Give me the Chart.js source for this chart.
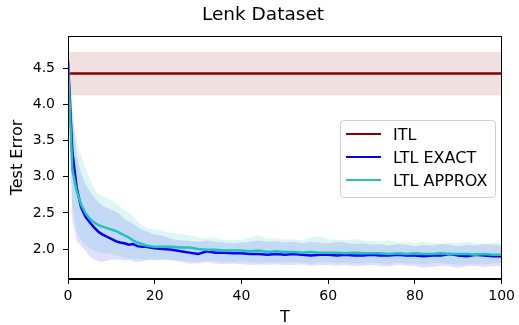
<!DOCTYPE html>
<html>
<head>
<meta charset="utf-8">
<script src="https://cdn.jsdelivr.net/npm/chart.js@4"></script>
<style>
  html, body { margin: 0; padding: 0; background: #fff; }
  #wrap { position: relative; width: 519px; height: 325px; }
  #legend { position: absolute; left: 340px; top: 120px; width: 154px; height: 76px;
    border: 1px solid #d0d0d0; border-radius: 4px; background: rgba(255,255,255,0.85);
    font-family: "DejaVu Sans", sans-serif; font-size: 16px; color: #000; }
  .row { position: absolute; left: 0; height: 24px; display: flex; align-items: center; white-space: nowrap; }
  .swatch { width: 35px; height: 2px; margin-left: 5px; margin-right: 12px; }
</style>
</head>
<body>
<div id="wrap">
  <canvas id="chart" width="519" height="325"></canvas>
  <div id="legend"></div>
</div>
<script>
// x positions (tasks T)
const T = [0,1,2,3,4,5,6,7,8,9,10,11,12,13,14,15,16,17,18,19,20,
  22,24,26,28,30,32,34,36,38,40,42,44,46,48,50,52,54,56,58,60,
  62,64,66,68,70,72,74,76,78,80,82,84,86,88,90,92,94,96,98,100];

const exactMean = [4.60,3.35,2.85,2.58,2.45,2.37,2.30,2.24,2.20,2.17,2.14,2.11,2.09,2.08,2.06,2.07,2.04,2.03,2.03,2.02,2.01,
  2.00,1.99,1.97,1.95,1.93,1.97,1.95,1.95,1.94,1.94,1.93,1.93,1.92,1.93,1.92,1.93,1.92,1.91,1.92,1.92,
  1.91,1.92,1.91,1.91,1.92,1.91,1.91,1.92,1.91,1.91,1.90,1.91,1.91,1.93,1.91,1.90,1.92,1.91,1.90,1.90];
const exactHigh = [4.78,3.95,3.30,3.05,2.90,2.80,2.72,2.65,2.60,2.57,2.54,2.52,2.48,2.42,2.38,2.35,2.30,2.27,2.25,2.22,2.20,
  2.18,2.14,2.12,2.11,2.10,2.12,2.10,2.09,2.08,2.09,2.10,2.12,2.10,2.11,2.09,2.10,2.08,2.10,2.09,2.08,
  2.10,2.09,2.07,2.08,2.06,2.07,2.05,2.07,2.06,2.04,2.06,2.05,2.07,2.06,2.04,2.06,2.05,2.07,2.06,2.05];
const exactLow = [4.40,2.40,2.12,2.04,1.98,1.90,1.86,1.83,1.82,1.84,1.85,1.86,1.85,1.84,1.85,1.83,1.82,1.83,1.84,1.85,1.84,
  1.85,1.84,1.82,1.80,1.80,1.82,1.80,1.79,1.80,1.79,1.78,1.79,1.78,1.79,1.78,1.78,1.79,1.77,1.78,1.78,
  1.77,1.78,1.76,1.77,1.78,1.77,1.76,1.78,1.77,1.76,1.74,1.75,1.77,1.76,1.74,1.76,1.77,1.75,1.76,1.77];

const approxMean = [4.55,3.10,2.80,2.62,2.50,2.42,2.37,2.33,2.31,2.29,2.27,2.25,2.22,2.19,2.16,2.12,2.09,2.07,2.05,2.04,2.03,
  2.03,2.03,2.02,2.02,2.00,1.99,1.99,1.98,1.98,1.98,1.97,1.98,1.96,1.97,1.96,1.96,1.95,1.96,1.95,1.95,
  1.95,1.94,1.95,1.94,1.94,1.94,1.93,1.94,1.93,1.94,1.93,1.93,1.94,1.93,1.93,1.93,1.92,1.93,1.92,1.92];
const approxHigh = [4.70,3.75,3.50,3.30,3.12,2.98,2.85,2.76,2.73,2.71,2.68,2.64,2.59,2.54,2.50,2.45,2.38,2.33,2.30,2.28,2.27,
  2.25,2.22,2.21,2.19,2.16,2.15,2.16,2.13,2.12,2.13,2.16,2.19,2.14,2.15,2.13,2.14,2.12,2.16,2.18,2.14,
  2.13,2.12,2.14,2.12,2.11,2.10,2.12,2.09,2.10,2.08,2.10,2.09,2.07,2.09,2.08,2.10,2.08,2.07,2.09,2.08];
const approxLow = [4.35,2.60,2.25,2.12,2.05,2.02,1.98,1.96,1.94,1.94,1.93,1.92,1.90,1.88,1.87,1.86,1.87,1.85,1.86,1.86,1.85,
  1.86,1.85,1.84,1.83,1.82,1.84,1.83,1.82,1.82,1.83,1.82,1.81,1.82,1.82,1.81,1.82,1.81,1.80,1.81,1.82,
  1.80,1.81,1.80,1.80,1.81,1.80,1.79,1.81,1.80,1.80,1.79,1.80,1.81,1.79,1.78,1.79,1.80,1.79,1.80,1.81];

const itlT = [0, 100];
const itlMean = [4.43, 4.43];
const itlHigh = [4.73, 4.73];
const itlLow = [4.13, 4.13];

const xTicks = [0, 20, 40, 60, 80, 100];
const yTicks = [2.0, 2.5, 3.0, 3.5, 4.0, 4.5];

const legendNames = ["ITL", "LTL EXACT", "LTL APPROX"];
const colors = { itl: "#8b0000", exact: "#0000ff", approx: "#20c4bc" };

function pts(xs, ys) { return xs.map((x, i) => ({ x: x, y: ys[i] })); }

function line(label, xs, ys, color, order) {
  return { label: label, data: pts(xs, ys), borderColor: color, borderWidth: 2.5,
    pointRadius: 0, fill: false, order: order };
}
function band(xs, ys, fill, bg, order) {
  return { label: "", data: pts(xs, ys), borderWidth: 0, borderColor: "rgba(0,0,0,0)",
    backgroundColor: bg, pointRadius: 0, fill: fill, order: order };
}

// axes box on all four sides + title centred like the original figure
const frame = {
  id: "frame",
  afterDatasetsDraw(chart) {
    const a = chart.chartArea, ctx = chart.ctx;
    ctx.save(); ctx.strokeStyle = "#000"; ctx.lineWidth = 1;
    ctx.strokeRect(Math.round(a.left) + 0.5, Math.round(a.top) + 0.5, Math.round(a.width) - 1, Math.round(a.height) - 1);
    ctx.restore();
  },
  afterDraw(chart) {
    const ctx = chart.ctx;
    ctx.save();
    ctx.fillStyle = "#000"; ctx.font = "18.5px 'DejaVu Sans'";
    ctx.textAlign = "center"; ctx.textBaseline = "middle";
    ctx.fillText("Lenk Dataset", 263, 15);
    ctx.restore();
  }
};

const font = { family: "DejaVu Sans", size: 14 };

new Chart(document.getElementById("chart"), {
  type: "line",
  data: {
    datasets: [
      line(legendNames[2], T, approxMean, colors.approx, 0),
      line(legendNames[1], T, exactMean, colors.exact, 1),
      line(legendNames[0], itlT, itlMean, colors.itl, 2),
      band(T, approxHigh, "+1", "rgba(35,195,182,0.15)", 3),
      band(T, approxLow, false, "rgba(0,0,0,0)", 4),
      band(T, exactHigh, "+1", "rgba(20,0,255,0.13)", 5),
      band(T, exactLow, false, "rgba(0,0,0,0)", 6),
      band(itlT, itlHigh, "+1", "rgba(139,0,0,0.12)", 7),
      band(itlT, itlLow, false, "rgba(0,0,0,0)", 8)
    ]
  },
  options: {
    responsive: false,
    animation: false,
    devicePixelRatio: 1,
    layout: { padding: { left: 0, right: 17, top: 36, bottom: 0 } },
    plugins: {
      legend: { display: false },
      tooltip: { enabled: false },
      title: { display: false },
      filler: { drawTime: "beforeDatasetsDraw" }
    },
    scales: {
      x: {
        type: "linear", min: 0, max: 100,
        afterBuildTicks: s => { s.ticks = xTicks.map(v => ({ value: v })); },
        afterFit: s => { s.height = 46; },
        ticks: { color: "#000", font: font, padding: 4, maxRotation: 0 },
        grid: { drawOnChartArea: false, drawTicks: true, tickLength: 5, color: "#000" },
        border: { display: true, color: "#000" },
        title: { display: true, text: "T", color: "#000", font: { family: "DejaVu Sans", size: 16 }, padding: { top: 0, bottom: -2.5 } }
      },
      y: {
        type: "linear", min: 1.585, max: 4.95,
        afterBuildTicks: s => { s.ticks = yTicks.map(v => ({ value: v })); },
        afterFit: s => { s.width = 68; },
        ticks: { color: "#000", font: font, padding: 8, callback: v => Number(v).toFixed(1) },
        grid: { drawOnChartArea: false, drawTicks: true, tickLength: 5, color: "#000" },
        border: { display: true, color: "#000" },
        title: { display: true, text: "Test Error", color: "#000", font: { family: "DejaVu Sans", size: 16 }, padding: { top: 8, bottom: 0 } }
      }
    }
  },
  plugins: [frame]
});

// legend box inside the plot, like matplotlib's
const legendColors = [colors.itl, colors.exact, colors.approx];
const legendEl = document.getElementById("legend");
legendNames.forEach((name, i) => {
  const row = document.createElement("div");
  row.className = "row";
  row.style.top = (i * 23 + 1) + "px";
  row.innerHTML = '<span class="swatch" style="background:' + legendColors[i] + '"></span><span>' + name + '</span>';
  legendEl.appendChild(row);
});
</script>
</body>
</html>
